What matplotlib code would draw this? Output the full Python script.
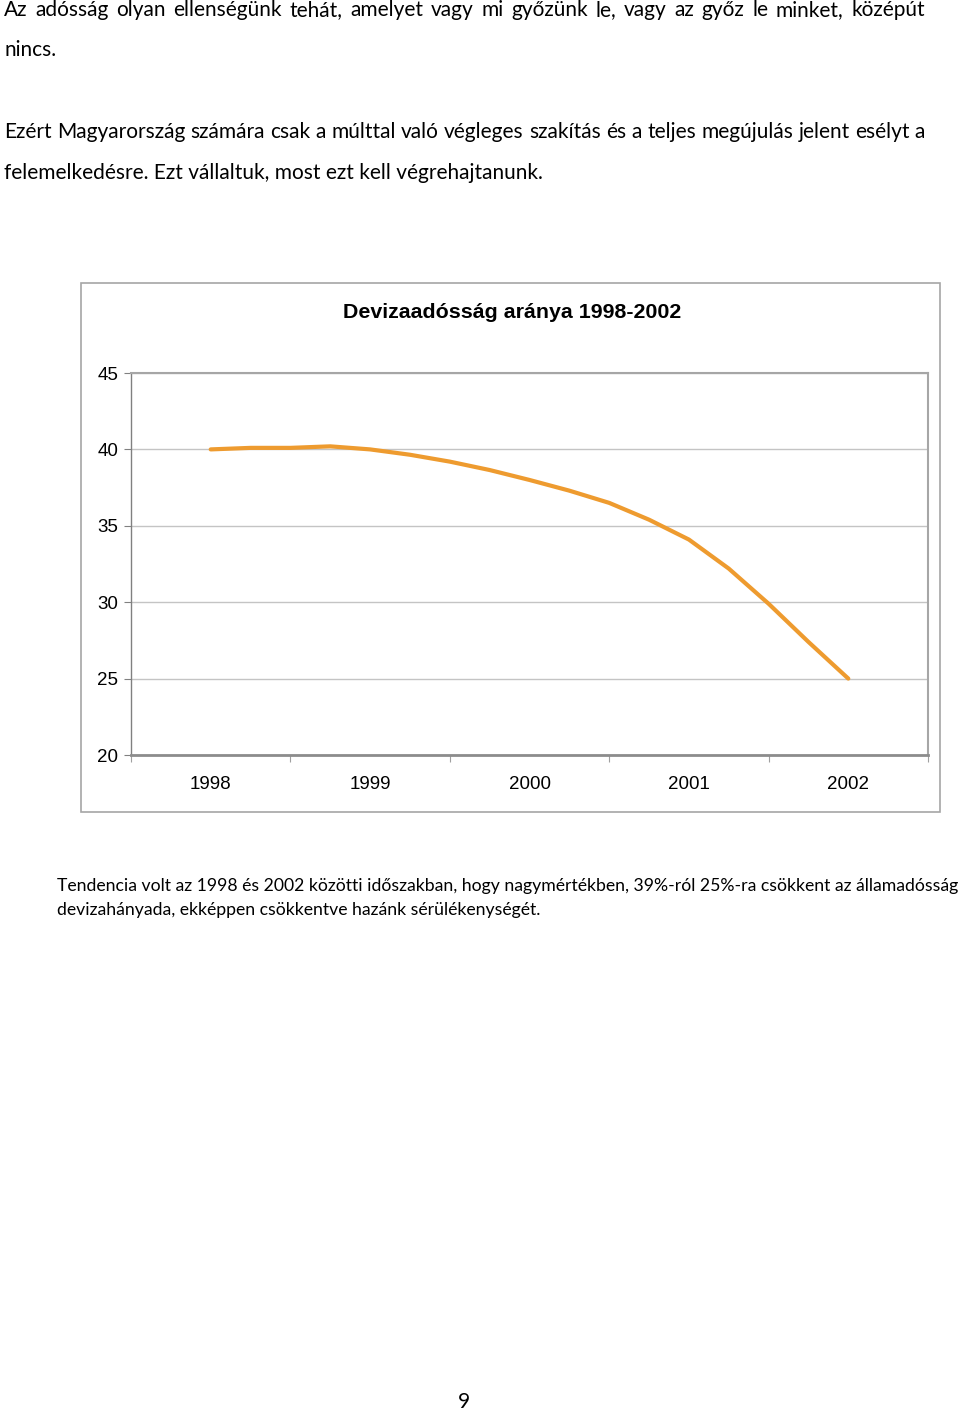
import matplotlib
matplotlib.use("Agg")
import matplotlib.pyplot as plt
from matplotlib.patches import Rectangle

# quarterly values, 1998 Q1 .. 2002 Q1
quarters = [1998 + i * 0.25 for i in range(17)]
values = [40.0, 40.1, 40.1, 40.2, 40.0, 39.65, 39.2, 38.65, 38.0,
          37.3, 36.5, 35.4, 34.1, 32.2, 29.9, 27.4, 25.0]
years = [1998, 1999, 2000, 2001, 2002]
yticks = [20, 25, 30, 35, 40, 45]

W, H = 960, 1413
fig = plt.figure(figsize=(W / 100, H / 100), dpi=100)
renderer = fig.canvas.get_renderer()

body_font = "Lato"
chart_font = "Liberation Sans"


def fx(x):
    return x / W


def fy(y):
    return 1 - y / H


def justified(y, line, x0, x1, size):
    # spread the words of one line between x0 and x1 (pixels), y is the baseline
    words = line.split(" ")
    texts = [fig.text(0, fy(y), w, fontsize=size, family=body_font, va="baseline", ha="left")
             for w in words]
    widths = [t.get_window_extent(renderer).width for t in texts]
    gap = (x1 - x0 - sum(widths)) / (len(words) - 1)
    x = x0
    for t, w in zip(texts, widths):
        t.set_x(fx(x))
        x += w + gap


# page text above the chart (y = baseline)
justified(16, "Az adósság olyan ellenségünk tehát, amelyet vagy mi győzünk le, vagy az győz le minket, középút", 4, 925, 15)
fig.text(fx(4), fy(56), "nincs.", fontsize=15, family=body_font, va="baseline", ha="left")
justified(138, "Ezért Magyarország számára csak a múlttal való végleges szakítás és a teljes megújulás jelent esélyt a", 4, 925, 15)
fig.text(fx(4), fy(179), "felemelkedésre. Ezt vállaltuk, most ezt kell végrehajtanunk.",
         fontsize=15, family=body_font, va="baseline", ha="left")

# chart frame
fig.add_artist(Rectangle((fx(81), fy(812)), fx(940) - fx(81), fy(283) - fy(812),
                         transform=fig.transFigure, fill=False, edgecolor="#a6a6a6", linewidth=1.2))

ax = fig.add_axes([fx(131), fy(755), fx(928) - fx(131), fy(373) - fy(755)])
ax.plot(quarters, values, color="#EE9B2F", linewidth=3.0, solid_capstyle="round")

ax.set_xlim(1997.5, 2002.5)
ax.set_ylim(20, 45)
ax.set_yticks(yticks)
ax.set_yticklabels([str(v) for v in yticks], fontsize=13.5, family=chart_font)
ax.yaxis.grid(True, color="#c4c4c4", linewidth=1.0)
ax.set_axisbelow(True)

# category boundaries as major ticks, labels at centres
ax.set_xticks([y - 0.5 for y in years] + [years[-1] + 0.5])
ax.set_xticklabels([])
ax.set_xticks(years, minor=True)
ax.set_xticklabels([str(y) for y in years], minor=True, fontsize=13.5, family=chart_font)
ax.tick_params(axis="x", which="major", length=5, color="#a0a0a0", direction="out")
ax.tick_params(axis="x", which="minor", length=0, pad=15)
ax.tick_params(axis="y", length=5, color="#808080", pad=4)

for s in ["top", "right"]:
    ax.spines[s].set_color("#a6a6a6")
    ax.spines[s].set_linewidth(1.5)
ax.spines["left"].set_color("#808080")
ax.spines["left"].set_linewidth(1.0)
ax.spines["bottom"].set_color("#8c8c8c")
ax.spines["bottom"].set_linewidth(2.0)

fig.text(fx(512), fy(313), "Devizaadósság aránya 1998-2002", fontsize=15.4, family=chart_font,
         weight="bold", ha="center", va="center")

# text below the chart
fig.text(fx(57), fy(891), "Tendencia volt az 1998 és 2002 közötti időszakban, hogy nagymértékben, 39%-ról 25%-ra csökkent az államadósság",
         fontsize=12.7, family=body_font, va="baseline", ha="left")
fig.text(fx(57), fy(915), "devizahányada, ekképpen csökkentve hazánk sérülékenységét.",
         fontsize=12.7, family=body_font, va="baseline", ha="left")

fig.text(fx(464), fy(1408), "9", fontsize=15, family=body_font, va="baseline", ha="center")

fig.savefig("out.png", dpi=100)
